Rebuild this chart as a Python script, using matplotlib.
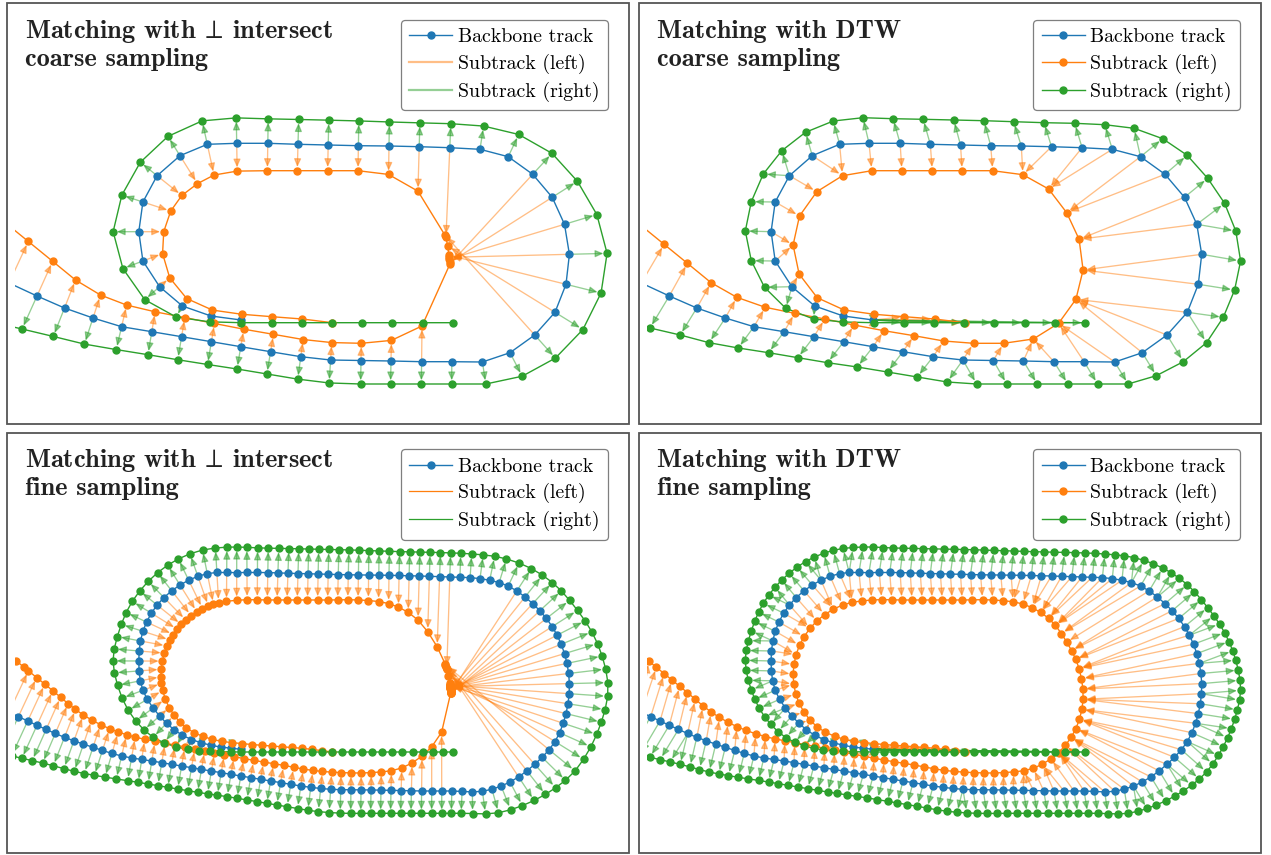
import numpy as np
import matplotlib
matplotlib.use("Agg")
import matplotlib.pyplot as plt
from matplotlib.lines import Line2D
from matplotlib.patches import FancyArrowPatch, Rectangle

plt.rcParams["mathtext.fontset"] = "cm"

# Track samples (drawing units: x to the right, y downward)
backbone_x = [9.0, 37.0, 64.5, 93.0, 121.6, 151.8, 181.6, 211.4, 240.8, 270.6,
              300.8, 330.6, 361.0, 391.0, 421.6, 451.8, 482.4, 510.0, 534.7, 555.0,
              566.0, 569.4, 564.5, 552.2, 532.7, 508.2, 480.0, 449.8, 419.2, 389.0,
              358.4, 328.2, 298.0, 267.8, 236.7, 207.3, 180.0, 157.1, 142.9, 138.8,
              142.9, 159.6, 182.4, 211.0, 241.0]
backbone_y = [283.0, 296.0, 308.0, 318.0, 326.7, 331.7, 336.7, 341.7, 346.7, 351.7,
              356.7, 360.0, 360.5, 361.0, 361.7, 361.7, 362.0, 352.7, 335.0, 312.3,
              284.3, 254.3, 224.3, 197.3, 174.3, 156.7, 149.3, 147.7, 146.7, 146.0,
              145.7, 145.0, 144.3, 143.3, 143.3, 144.3, 155.7, 175.7, 202.0, 231.7,
              261.0, 286.7, 306.0, 316.0, 320.0]

left_x = [8.5, 31.8, 55.1, 78.8, 104.5, 133.0, 162.4, 192.5, 221.8, 251.6,
          281.7, 311.4, 341.2, 371.3, 401.0, 426.3, 443.6, 450.8, 446.8, 434.4,
          416.3, 390.6, 360.4, 329.9, 300.0, 269.6, 239.5, 210.2, 184.5, 167.2,
          160.8, 166.8, 184.9, 211.8, 242.0, 272.0, 302.2, 332.3]
left_y = [225.3, 244.3, 263.3, 282.7, 297.3, 307.3, 313.3, 319.0, 325.0, 330.7,
          335.7, 341.0, 343.3, 343.3, 339.0, 323.3, 299.3, 270.0, 239.3, 212.7,
          189.0, 174.7, 170.7, 170.7, 170.7, 170.7, 170.7, 175.7, 191.7, 216.0,
          245.0, 274.0, 297.7, 310.0, 314.3, 316.7, 319.0, 322.7]

right_x = [-12.5, 17.7, 47.9, 76.8, 106.0, 136.3, 165.6, 195.3, 225.0, 255.2,
           285.0, 315.0, 344.4, 374.5, 405.0, 435.6, 465.3, 495.8, 524.0, 551.0,
           574.2, 591.0, 602.3, 608.3, 603.5, 592.3, 575.4, 554.9, 530.4, 501.8,
           472.5, 442.4, 411.8, 381.3, 351.6, 321.5, 290.9, 260.8, 230.7, 201.0,
           173.2, 149.5, 131.0, 119.0, 113.0, 119.0, 132.2, 153.5, 181.3, 211.0,
           241.5, 271.6, 301.8, 331.5, 362.0, 392.2, 422.7, 452.8]
right_y = [321.0, 328.0, 335.0, 342.7, 348.0, 352.7, 357.7, 362.7, 367.0, 372.0,
           377.0, 382.0, 384.0, 384.0, 384.0, 384.0, 384.0, 384.0, 375.7, 361.7,
           342.7, 317.3, 290.0, 261.0, 231.0, 203.3, 178.3, 155.3, 138.7, 128.3,
           124.7, 123.3, 122.7, 121.7, 120.7, 120.0, 119.3, 118.7, 117.7, 121.0,
           132.3, 150.7, 174.0, 201.7, 231.0, 260.7, 287.3, 308.3, 319.0, 322.0,
           322.7, 322.7, 322.7, 322.7, 322.7, 322.7, 322.7, 322.7]

titles = [("Matching with $\\!\\perp\\!$ intersect", "coarse sampling"),
          ("Matching with DTW", "coarse sampling"),
          ("Matching with $\\!\\perp\\!$ intersect", "fine sampling"),
          ("Matching with DTW", "fine sampling")]
labels = ["Backbone track", "Subtrack (left)", "Subtrack (right)"]

BLUE, ORANGE, GREEN = "#1f77b4", "#ff7f0e", "#2ca02c"
W, H = 1271, 855
FINE_STEPS = 3


def densify(pts, k):
    """Sample a track k times more densely along a Catmull-Rom curve."""
    P = np.vstack([2 * pts[0] - pts[1], pts, 2 * pts[-1] - pts[-2]])
    out = []
    for i in range(1, len(P) - 2):
        p0, p1, p2, p3 = P[i - 1], P[i], P[i + 1], P[i + 2]
        for j in range(k):
            t = j / k
            out.append(0.5 * (2 * p1 + (p2 - p0) * t
                              + (2 * p0 - 5 * p1 + 4 * p2 - p3) * t ** 2
                              + (3 * p1 - p0 - 3 * p2 + p3) * t ** 3))
    out.append(P[-2])
    return np.array(out)


def cross(a, b):
    return a[..., 0] * b[..., 1] - a[..., 1] * b[..., 0]


def perp_match(track, sub, side, max_len=135.0):
    """Intersect the normal of each backbone sample with the subtrack."""
    tang = np.gradient(track, axis=0)
    tang /= np.linalg.norm(tang, axis=1)[:, None]
    if side == "left":
        nrm = np.column_stack([tang[:, 1], -tang[:, 0]])
    else:
        nrm = np.column_stack([-tang[:, 1], tang[:, 0]])
    A, E = sub[:-1], sub[1:] - sub[:-1]
    seg = np.linalg.norm(E, axis=1)
    cum = np.concatenate([[0.0], np.cumsum(seg)])
    pairs, hits, arcs = [], [], []
    for p, n in zip(track, nrm):
        nb = np.broadcast_to(n, E.shape)
        den = cross(nb, E)
        w = A - p
        with np.errstate(divide="ignore", invalid="ignore"):
            s = cross(w, E) / den
            u = cross(w, nb) / den
        ok = (np.abs(den) > 1e-9) & (u >= 0) & (u <= 1) & (s > 0.5) & (s < max_len)
        if not ok.any():
            continue
        k = np.where(ok)[0][np.argmin(s[ok])]
        q = p + s[k] * n
        pairs.append((p, q))
        hits.append(q)
        arcs.append(cum[k] + u[k] * seg[k])
    hits, arcs = np.array(hits), np.array(arcs)
    keep = (cum < arcs.min() - 5) | (cum > arcs.max() + 5)
    allp = np.vstack([hits, sub[keep]])
    alla = np.concatenate([arcs, cum[keep]])
    return pairs, allp[np.argsort(alla)]


def dtw_match(a, b):
    D = np.linalg.norm(a[:, None, :] - b[None, :, :], axis=2)
    n, m = D.shape
    C = np.full((n + 1, m + 1), np.inf)
    C[0, 0] = 0.0
    for i in range(1, n + 1):
        for j in range(1, m + 1):
            C[i, j] = D[i - 1, j - 1] + min(C[i - 1, j], C[i, j - 1], C[i - 1, j - 1])
    i, j, path = n, m, []
    while i > 0 and j > 0:
        path.append((i - 1, j - 1))
        k = int(np.argmin([C[i - 1, j - 1], C[i - 1, j], C[i, j - 1]]))
        if k == 0:
            i, j = i - 1, j - 1
        elif k == 1:
            i -= 1
        else:
            j -= 1
    return [(a[i], b[j]) for i, j in path[::-1]]


def arrow(ax, p, q, color):
    ax.add_patch(FancyArrowPatch(
        tuple(p), tuple(q), arrowstyle="-|>,head_length=4.8,head_width=2.1",
        mutation_scale=1, shrinkA=0, shrinkB=2.6, lw=0.95, color=color,
        alpha=0.5, zorder=1))


backbone = np.column_stack([backbone_x, backbone_y])
left = np.column_stack([left_x, left_y])
right = np.column_stack([right_x, right_y])

fig = plt.figure(figsize=(W / 100, H / 100), dpi=100)

offsets = [(0.0, 0.0), (632.3, 0.0), (0.0, 429.3), (632.3, 429.3)]
frames = [(7, 3.3, 628.6, 424), (638.5, 3.3, 1261, 424),
          (7, 432.6, 628.6, 853.3), (638.5, 432.6, 1261, 853.3)]
X0, X1, Y0, Y1 = 15.0, 622.0, 8.0, 418.0

for idx in range(4):
    ox, oy = offsets[idx]
    fine = idx >= 2
    use_dtw = idx % 2 == 1
    ax = fig.add_axes([(ox + X0) / W, 1 - (oy + Y1) / H, (X1 - X0) / W, (Y1 - Y0) / H])
    ax.set_xlim(X0, X1)
    ax.set_ylim(Y1, Y0)
    ax.set_axis_off()

    bb = densify(backbone, FINE_STEPS) if fine else backbone
    lt = densify(left, FINE_STEPS) if fine else left
    rt = densify(right, FINE_STEPS) if fine else right

    if use_dtw:
        lpairs, ldots = dtw_match(bb, lt), lt
        rpairs, rdots = dtw_match(bb, rt), rt
    else:
        lpairs, ldots = perp_match(bb, lt, "left")
        rpairs, rdots = perp_match(bb, rt, "right")

    for p, q in lpairs:
        arrow(ax, p, q, ORANGE)
    for p, q in rpairs:
        arrow(ax, p, q, GREEN)

    for pts, c in [(bb, BLUE), (ldots, ORANGE), (rdots, GREEN)]:
        ax.plot(pts[:, 0], pts[:, 1], color=c, lw=1.0, zorder=2)
    for pts, c in [(bb, BLUE), (ldots, ORANGE), (rdots, GREEN)]:
        ax.plot(pts[:, 0], pts[:, 1], ls="none", marker="o", ms=5.0,
                color=c, zorder=3)

    if use_dtw:
        handles = [Line2D([], [], color=BLUE, lw=1.0, marker="o", ms=5.0),
                   Line2D([], [], color=ORANGE, lw=1.0, marker="o", ms=5.0),
                   Line2D([], [], color=GREEN, lw=1.0, marker="o", ms=5.0)]
    elif not fine:
        handles = [Line2D([], [], color=BLUE, lw=1.0, marker="o", ms=5.0),
                   Line2D([], [], color=ORANGE, lw=1.6, alpha=0.5),
                   Line2D([], [], color=GREEN, lw=1.6, alpha=0.5)]
    else:
        handles = [Line2D([], [], color=BLUE, lw=1.0, marker="o", ms=5.0),
                   Line2D([], [], color=ORANGE, lw=0.9),
                   Line2D([], [], color=GREEN, lw=0.9)]
    leg = ax.legend(handles, labels, loc="upper right", bbox_to_anchor=(608, 20),
                    bbox_transform=ax.transData, borderaxespad=0,
                    prop={"family": "cmr10", "size": 14.3}, handlelength=2.15,
                    handletextpad=0.3, labelspacing=0.39, borderpad=0.42,
                    fancybox=True, framealpha=1, edgecolor="#7f7f7f")
    leg.get_frame().set_linewidth(0.9)
    leg.set_zorder(10)

    t1, t2 = titles[idx]
    fig.text((ox + 25) / W, 1 - (oy + 37.7) / H, t1, family="cmb10", fontsize=19,
             va="baseline", ha="left", color="#222222")
    fig.text((ox + 25) / W, 1 - (oy + 65.7) / H, t2, family="cmb10", fontsize=19,
             va="baseline", ha="left", color="#222222")

for x0, y0, x1, y1 in frames:
    fig.add_artist(Rectangle((x0 / W, 1 - y1 / H), (x1 - x0) / W, (y1 - y0) / H,
                             transform=fig.transFigure, fill=False,
                             ec="#555555", lw=1.3))

fig.savefig("out.png", dpi=100)
